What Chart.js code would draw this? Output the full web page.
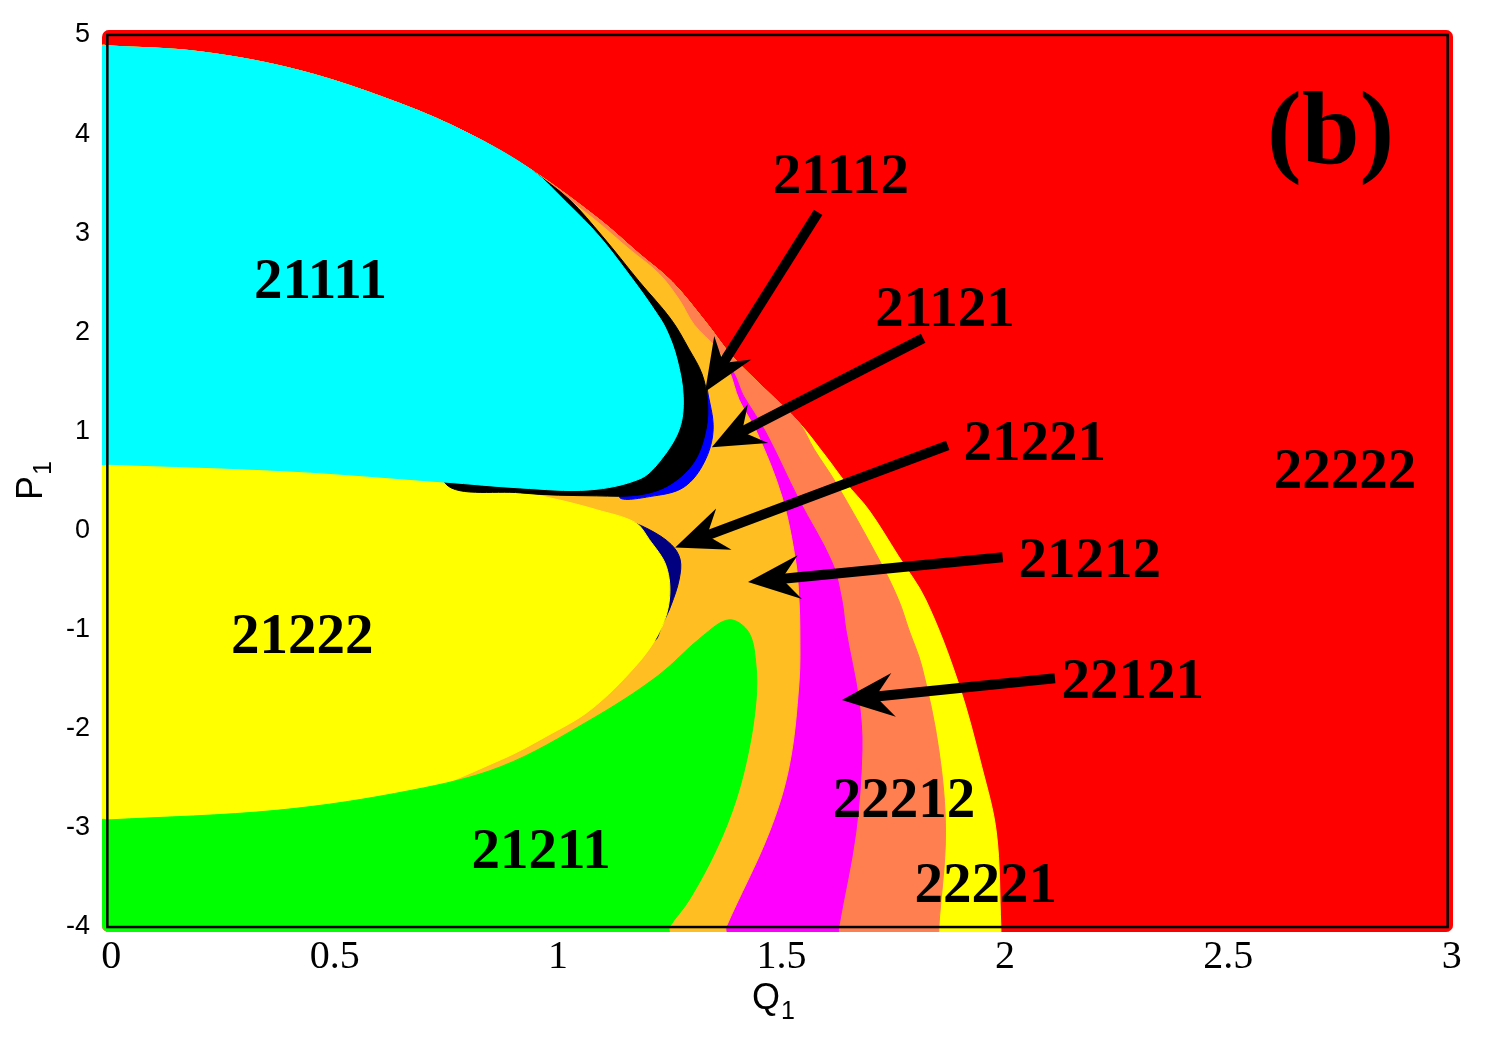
<!DOCTYPE html>
<html>
<head>
<meta charset="utf-8">
<script src="https://cdn.jsdelivr.net/npm/chart.js@4.4.1/dist/chart.umd.min.js"></script>
<style>
  html, body { margin: 0; padding: 0; background: #fff; }
  #wrap { width: 1500px; height: 1050px; }
</style>
</head>
<body>
<div id="wrap"><canvas id="chart" width="1500" height="1050"></canvas></div>
<script>
// ticks
const xTicks = [0, 0.5, 1, 1.5, 2, 2.5, 3];
const yTicks = [-4, -3, -2, -1, 0, 1, 2, 3, 4, 5];

// plot range (a little past the frame, the colour map spills over it)
const qMin = -0.012, qMax = 3.012, pMin = -4.05, pMax = 5.05;

// region boundaries, [Q1, P1]
// shared top edge of all inner regions, right to left
const capEdge = [[0.952, 3.63], [0.811, 4.00], [0.654, 4.31], [0.431, 4.64], [0.208, 4.83], [0, 4.89]];
// 22222 | 22221 (and 22212 above), bottom to top
const redEdge = [[2.00, -4.00], [1.99, -3.05], [1.957, -2.38], [1.905, -1.54], [1.832, -0.70], [1.771, -0.26],
  [1.704, 0.21], [1.653, 0.48], [1.608, 0.75], [1.548, 1.09], [1.474, 1.42], [1.398, 1.76], [1.340, 2.10],
  [1.264, 2.51], [1.191, 2.79], [1.101, 3.14]];
// 22221 | 22212
const coralYellowEdge = [[1.861, -4.00], [1.876, -3.05], [1.861, -2.21], [1.823, -1.37], [1.794, -1.00],
  [1.771, -0.70], [1.727, -0.29], [1.631, 0.48], [1.582, 0.82], [1.548, 1.09]];
// 22212 | 22121
const magentaCoralEdge = [[1.637, -4.00], [1.675, -3.05], [1.689, -2.21], [1.682, -1.71], [1.653, -1.00],
  [1.644, -0.70], [1.622, -0.32], [1.548, 0.31], [1.474, 0.99], [1.425, 1.35], [1.392, 1.61]];
// 22121 | 21212
const orangeMagentaEdge = [[1.385, -4.00], [1.481, -3.05], [1.526, -2.38], [1.548, -1.54], [1.550, -1.00],
  [1.548, -0.70], [1.541, -0.32], [1.510, 0.34], [1.454, 0.99], [1.414, 1.32], [1.392, 1.61]];
// 22212 | 21212 above the magenta tip
const orangeCoralEdge = [[1.392, 1.61], [1.365, 1.83], [1.313, 2.08], [1.280, 2.33], [1.235, 2.59],
  [1.168, 2.84], [1.090, 3.14], [1.012, 3.41], [0.952, 3.63]];
// 21211 outline, bottom right round to the left edge
const greenEdge = [[1.258, -4.00], [1.302, -3.73], [1.363, -3.22], [1.407, -2.72], [1.436, -2.21],
  [1.452, -1.71], [1.452, -1.37], [1.436, -1.03], [1.392, -0.90], [1.331, -1.07], [1.231, -1.47],
  [1.081, -1.91], [0.882, -2.38], [0.681, -2.62], [0.384, -2.82], [0, -2.92]];
// 21222 outline
const yellowTop = [[0, 0.69], [0.411, 0.62], [0.753, 0.51], [0.882, 0.43], [1.010, 0.31], [1.095, 0.21], [1.182, 0.08]];
const yellowRight = [[1.213, -0.09], [1.251, -0.36], [1.258, -0.70], [1.235, -1.03], [1.182, -1.37],
  [1.081, -1.81], [0.981, -2.08], [0.882, -2.31], [0.681, -2.66], [0.384, -2.87], [0, -2.97]];
// 21221 crescent
const navyEdge = [[1.146, 0.14], [1.213, 0.01], [1.262, -0.14], [1.282, -0.29], [1.280, -0.49],
  [1.262, -0.75], [1.242, -0.95], [1.224, -1.10], [1.15, -0.6], [1.12, -0.1]];
// 21121 crescent
const blueEdge = [[1.343, 1.42], [1.356, 1.02], [1.336, 0.69], [1.291, 0.44], [1.224, 0.35], [1.146, 0.34],
  [1.2, 0.7], [1.3, 1.2]];
// 21112 crescent
const blackEdge = [[0.952, 3.63], [1.034, 3.34], [1.108, 2.97], [1.191, 2.51], [1.262, 2.13], [1.302, 1.83],
  [1.331, 1.58], [1.343, 1.32], [1.340, 1.02], [1.313, 0.69], [1.258, 0.46], [1.191, 0.36], [1.095, 0.35],
  [0.925, 0.38], [0.753, 0.50], [0.8, 1.5], [0.9, 3.0]];
// 21111 right / bottom edge
const cyanEdge = [[0.952, 3.63], [1.028, 3.31], [1.101, 2.97], [1.175, 2.54], [1.224, 2.23], [1.251, 2.03],
  [1.275, 1.73], [1.289, 1.35], [1.280, 1.02], [1.235, 0.69], [1.191, 0.52], [1.079, 0.41], [0.925, 0.43],
  [0.753, 0.49], [0.411, 0.60], [0, 0.67]];

// labels [text, Q1, P1] (centre of text)
const regionLabels = [
  ['21111', 0.477, 2.55], ['21112', 1.642, 3.61], ['21121', 1.875, 2.27], ['21221', 2.076, 0.91],
  ['21212', 2.199, -0.27], ['22121', 2.295, -1.49], ['22222', 2.770, 0.63], ['21222', 0.436, -1.03],
  ['22212', 1.783, -2.69], ['21211', 0.971, -3.20], ['22221', 1.966, -3.55]
];
const panelLabel = ['(b)', 2.738, 3.71];
// arrows [fromQ, fromP, toQ, toP]
const arrows = [
  [1.591, 3.21, 1.338, 1.40],
  [1.826, 1.94, 1.353, 0.84],
  [1.881, 0.86, 1.271, -0.17],
  [2.004, -0.27, 1.434, -0.52],
  [2.121, -1.49, 1.644, -1.71]
];

const serif = '"Liberation Serif", "Times New Roman", serif';
const sans = '"Liberation Sans", Arial, sans-serif';

const leftSide = (pTop) => [[qMin, pTop], [qMin, pMin]];
const bottomStart = (edge) => [[edge[0][0], pMin]];

// bottom layer first
const layers = [
  ['#FF0000', [[qMin, pMin], [qMax, pMin], [qMax, pMax], [qMin, pMax]]],
  ['#FFFF00', [...bottomStart(redEdge), ...redEdge, ...capEdge, ...leftSide(4.89)]],
  ['#FF7F50', [...bottomStart(coralYellowEdge), ...coralYellowEdge, ...redEdge.filter(p => p[1] > 1.09),
    ...capEdge, ...leftSide(4.89)]],
  ['#FF00FF', [...bottomStart(magentaCoralEdge), ...magentaCoralEdge, [1.30, 1.0], ...leftSide(1.0)]],
  ['#FFBE22', [...bottomStart(orangeMagentaEdge), ...orangeMagentaEdge, ...orangeCoralEdge.slice(1),
    ...capEdge.slice(1), ...leftSide(4.89)]],
  ['#000080', navyEdge],
  ['#FFFF00', [...yellowTop, ...yellowRight, [qMin, -2.97], [qMin, 0.69]]],
  ['#00FF00', [...bottomStart(greenEdge), ...greenEdge, ...leftSide(-2.92)]],
  ['#0000FF', blueEdge],
  ['#000000', blackEdge],
  ['#00FFFF', [...capEdge.slice().reverse(), ...cyanEdge.slice(1), [qMin, 0.67], [qMin, 4.89]]]
];

function region(color, pts, bg) {
  return {
    data: pts.map(p => ({ x: p[0], y: p[1] })),
    showLine: true,
    fill: 'shape',
    backgroundColor: color,
    borderColor: color,
    borderWidth: 1,
    pointRadius: 0,
    tension: bg ? 0 : 0.35
  };
}
// first dataset is drawn on top
const datasets = layers.map(([c, pts], i) => region(c, pts, i === 0)).reverse();

function drawArrow(ctx, x0, y0, x1, y1) {
  const ang = Math.atan2(y1 - y0, x1 - x0);
  const len = Math.hypot(x1 - x0, y1 - y0);
  ctx.save();
  ctx.translate(x1, y1);
  ctx.rotate(ang);
  ctx.fillStyle = '#000';
  ctx.fillRect(-len, -5, len - 30, 10);
  ctx.beginPath();
  ctx.moveTo(0, 0);
  ctx.lineTo(-52, -22);
  ctx.lineTo(-34, 0);
  ctx.lineTo(-52, 22);
  ctx.closePath();
  ctx.fill();
  ctx.restore();
}

const overlay = {
  id: 'overlay',
  beforeDatasetsDraw(chart) {
    const { ctx, chartArea: a } = chart;
    ctx.save();
    ctx.beginPath();
    ctx.roundRect(a.left, a.top, a.right - a.left, a.bottom - a.top, 7);
    ctx.clip();
  },
  afterDatasetsDraw(chart) {
    const { ctx, scales: { x, y } } = chart;
    ctx.restore();
    ctx.save();
    // frame
    const fl = x.getPixelForValue(0), fr = x.getPixelForValue(3);
    const ft = y.getPixelForValue(5), fb = y.getPixelForValue(-4);
    ctx.strokeStyle = '#000';
    ctx.lineWidth = 2.5;
    ctx.strokeRect(fl, ft, fr - fl, fb - ft);
    // arrows
    arrows.forEach(([q0, p0, q1, p1]) => drawArrow(ctx,
      x.getPixelForValue(q0), y.getPixelForValue(p0), x.getPixelForValue(q1), y.getPixelForValue(p1)));
    // region codes
    ctx.fillStyle = '#000';
    ctx.textAlign = 'center';
    ctx.textBaseline = 'alphabetic';
    ctx.font = 'bold 57px ' + serif;
    regionLabels.forEach(([t, q, p]) => ctx.fillText(t, x.getPixelForValue(q), y.getPixelForValue(p) + 20));
    ctx.font = 'bold 104px ' + serif;
    ctx.fillText(panelLabel[0], x.getPixelForValue(panelLabel[1]), y.getPixelForValue(panelLabel[2]));
    ctx.restore();
  },
  afterDraw(chart) {
    const ctx = chart.ctx;
    ctx.save();
    ctx.fillStyle = '#000';
    ctx.textAlign = 'left';
    ctx.textBaseline = 'alphabetic';
    // x title Q1
    ctx.font = '36px ' + sans;
    const qw = ctx.measureText('Q').width;
    ctx.fillText('Q', 752, 1009);
    ctx.font = '25px ' + sans;
    ctx.fillText('1', 752 + qw + 1, 1019);
    // y title P1
    ctx.translate(42, 500);
    ctx.rotate(-Math.PI / 2);
    ctx.font = '36px ' + sans;
    const pw = ctx.measureText('P').width;
    ctx.fillText('P', 0, 0);
    ctx.font = '25px ' + sans;
    ctx.fillText('1', pw + 1, 9);
    ctx.restore();
  }
};

new Chart(document.getElementById('chart'), {
  type: 'scatter',
  data: { datasets },
  options: {
    responsive: false,
    animation: false,
    events: [],
    layout: { padding: { top: 30, right: 47, left: 0, bottom: 0 } },
    plugins: {
      legend: { display: false },
      tooltip: { enabled: false },
      filler: { propagate: false }
    },
    scales: {
      x: {
        type: 'linear',
        min: qMin,
        max: qMax,
        grid: { display: false, drawTicks: false },
        border: { display: false },
        afterBuildTicks: s => { s.ticks = xTicks.map(v => ({ value: v })); },
        afterFit: s => { s.height = 118; },
        ticks: {
          callback: v => String(v),
          padding: 1,
          labelOffset: 4,
          color: '#000',
          maxRotation: 0,
          autoSkip: false,
          font: { family: serif, size: 40 }
        }
      },
      y: {
        type: 'linear',
        min: pMin,
        max: pMax,
        grid: { display: false, drawTicks: false },
        border: { display: false },
        afterBuildTicks: s => { s.ticks = yTicks.map(v => ({ value: v })); },
        afterFit: s => { s.width = 102; },
        ticks: {
          callback: v => String(v),
          padding: 12,
          color: '#000',
          autoSkip: false,
          font: { family: sans, size: 27 }
        }
      }
    }
  },
  plugins: [overlay]
});
</script>
</body>
</html>
